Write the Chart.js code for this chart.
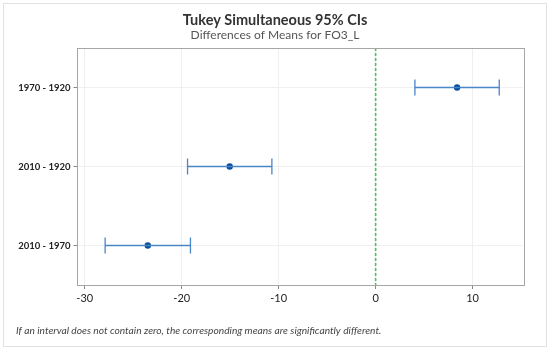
<!DOCTYPE html>
<html>
<head>
<meta charset="utf-8">
<script src="https://cdn.jsdelivr.net/npm/chart.js@4"></script>
<style>
  html, body { margin: 0; padding: 0; background: #fff; }
  #wrap { width: 550px; height: 353px; position: relative; }
</style>
</head>
<body>
<div id="wrap"><canvas id="chart" width="550" height="353"></canvas></div>
<script>
const comparisons = ['1970 - 1920', '2010 - 1920', '2010 - 1970'];
const diffMeans = [8.4, -15.05, -23.5];
const lowerCI = [4.05, -19.4, -27.9];
const upperCI = [12.75, -10.7, -19.1];
const xTicks = [-30, -20, -10, 0, 10];

const titleText = 'Tukey Simultaneous 95% CIs';
const subtitleText = 'Differences of Means for FO3_L';
const footnoteText = 'If an interval does not contain zero, the corresponding means are significantly different.';

const FONT = "Lato, 'Open Sans', sans-serif";

// Frame, titles, footnote, plot border, zero line and interval bars
const decorPlugin = {
    id: 'decor',
    beforeDraw(chart) {
        const ctx = chart.ctx;
        ctx.save();
        ctx.strokeStyle = '#e2e2e2';
        ctx.lineWidth = 1;
        ctx.strokeRect(3.5, 3.5, 543, 343);
        ctx.restore();
    },
    afterDatasetsDraw(chart) {
        const ctx = chart.ctx;
        const xs = chart.scales.x;
        const ys = chart.scales.y;
        const area = chart.chartArea;

        ctx.save();
        // reference line at zero
        const x0 = xs.getPixelForValue(0);
        ctx.strokeStyle = '#4fbf63';
        ctx.lineWidth = 1.6;
        ctx.setLineDash([3, 2]);
        ctx.beginPath();
        ctx.moveTo(x0, area.top);
        ctx.lineTo(x0, area.bottom);
        ctx.stroke();
        ctx.setLineDash([]);

        // interval bars with caps
        ctx.strokeStyle = '#4a86c6';
        ctx.lineWidth = 1.3;
        comparisons.forEach((c, i) => {
            const y = ys.getPixelForValue(i);
            const xl = xs.getPixelForValue(lowerCI[i]);
            const xu = xs.getPixelForValue(upperCI[i]);
            ctx.beginPath();
            ctx.moveTo(xl, y);
            ctx.lineTo(xu, y);
            ctx.moveTo(xl, y - 8);
            ctx.lineTo(xl, y + 8);
            ctx.moveTo(xu, y - 8);
            ctx.lineTo(xu, y + 8);
            ctx.stroke();
        });
        ctx.restore();
    },
    afterDraw(chart) {
        const ctx = chart.ctx;
        const area = chart.chartArea;
        ctx.save();
        // plot border
        ctx.strokeStyle = '#a6a6a6';
        ctx.lineWidth = 1;
        ctx.strokeRect(Math.round(area.left) - 0.5, Math.round(area.top) + 0.5,
            Math.round(area.right - area.left) + 1, Math.round(area.bottom - area.top));

        // titles
        ctx.textAlign = 'center';
        ctx.textBaseline = 'middle';
        ctx.fillStyle = '#333333';
        ctx.font = 'bold 14.5px ' + FONT;
        ctx.fillText(titleText, 275, 20);
        ctx.fillStyle = '#555555';
        ctx.font = '12px ' + FONT;
        ctx.fillText(subtitleText, 275, 35);

        // footnote
        ctx.textAlign = 'left';
        ctx.fillStyle = '#444444';
        ctx.font = 'italic 10.2px ' + FONT;
        ctx.fillText(footnoteText, 16, 331);
        ctx.restore();
    }
};

new Chart(document.getElementById('chart').getContext('2d'), {
    type: 'scatter',
    data: {
        datasets: [{
            data: diffMeans.map((v, i) => ({ x: v, y: i })),
            backgroundColor: '#0a4f9e',
            borderColor: '#0a4f9e',
            borderWidth: 0,
            pointRadius: 3.2,
            pointHoverRadius: 3.2
        }]
    },
    options: {
        responsive: false,
        animation: false,
        layout: { padding: { left: 0, right: 27, top: 48, bottom: 43 } },
        plugins: {
            legend: { display: false },
            tooltip: { enabled: false }
        },
        scales: {
            x: {
                type: 'linear',
                min: -30.75,
                max: 15.2,
                afterBuildTicks: (scale) => { scale.ticks = xTicks.map(v => ({ value: v })); },
                afterFit: (scale) => { scale.height = 25; },
                grid: {
                    color: '#efefef',
                    tickColor: '#888888',
                    tickLength: 4
                },
                border: { display: false },
                ticks: {
                    color: '#222222',
                    padding: 3,
                    font: { family: FONT, size: 11 }
                }
            },
            y: {
                type: 'linear',
                min: -0.5,
                max: 2.5,
                reverse: true,
                afterBuildTicks: (scale) => { scale.ticks = comparisons.map((c, i) => ({ value: i })); },
                afterFit: (scale) => { scale.width = 77.5; },
                grid: {
                    color: '#f0f0f0',
                    tickColor: '#888888',
                    tickLength: 4
                },
                border: { display: false },
                ticks: {
                    color: '#222222',
                    padding: 3,
                    font: { family: FONT, size: 9.5, weight: 'bold' },
                    callback: (v) => comparisons[v]
                }
            }
        }
    },
    plugins: [decorPlugin]
});
</script>
</body>
</html>
